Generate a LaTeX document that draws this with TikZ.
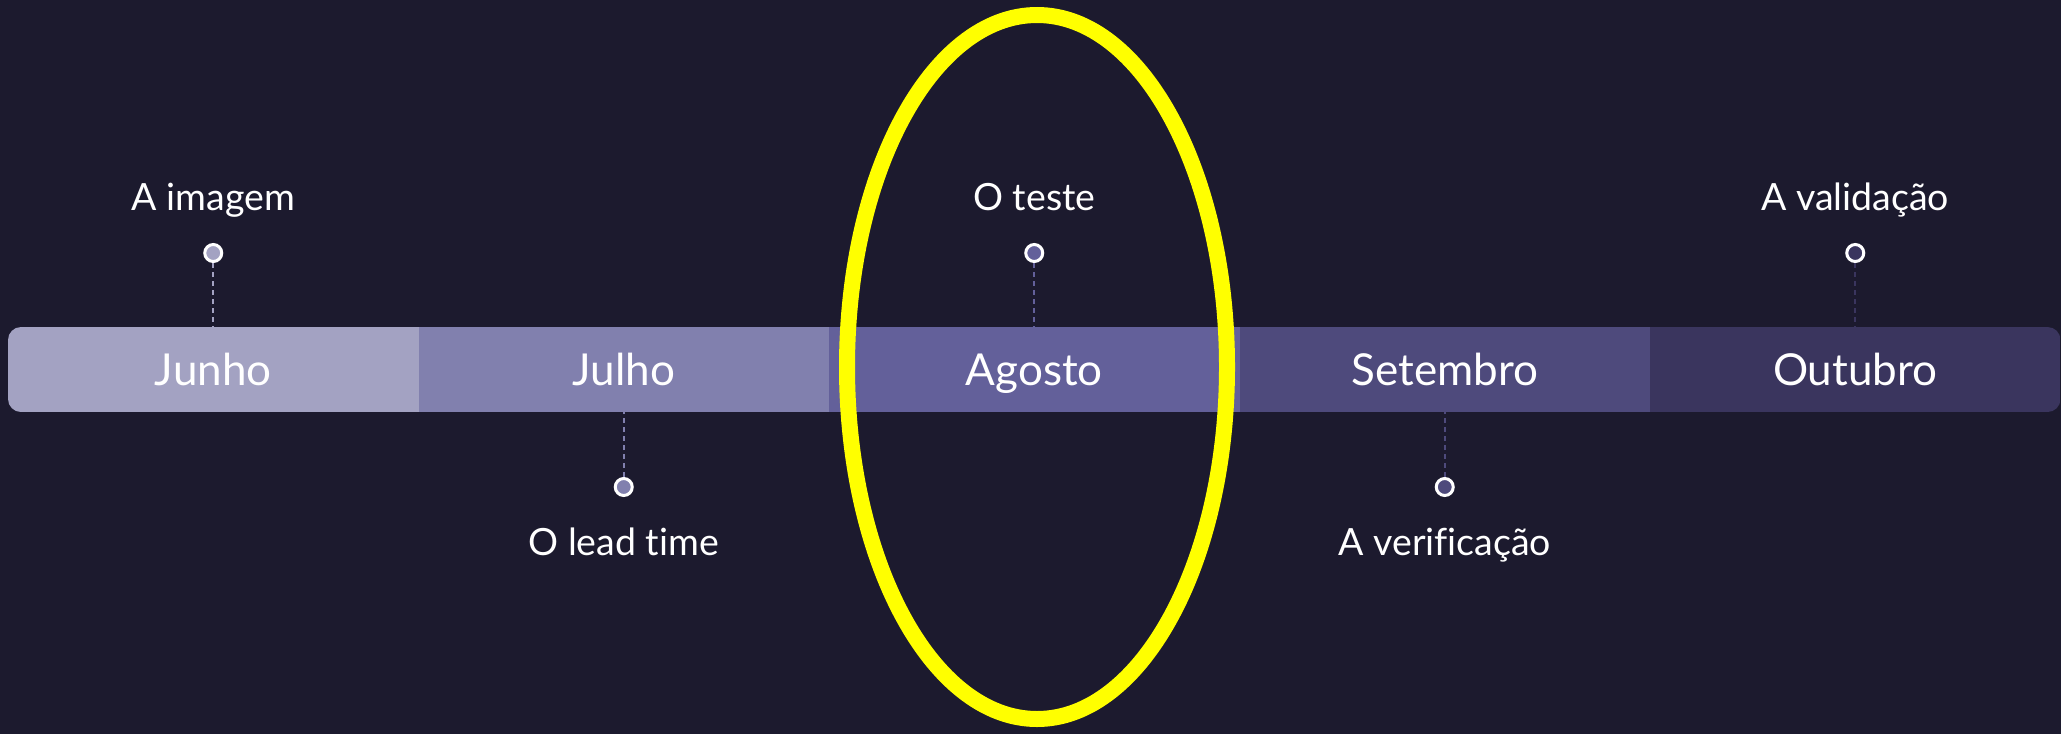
\documentclass[tikz,border=0pt]{standalone}
\usepackage{fontspec}
\setmainfont[Ligatures=NoCommon]{Lato}
\usepackage{tikz}
\usetikzlibrary{positioning,shapes.geometric}
\definecolor{night}{HTML}{1C1A2E}
\definecolor{junho}{HTML}{A3A2C2}
\definecolor{julho}{HTML}{8180AE}
\definecolor{agosto}{HTML}{63609A}
\definecolor{setembro}{HTML}{4E4A7C}
\definecolor{outubro}{HTML}{3A355E}
\definecolor{marker}{HTML}{FFFF00}
\tikzset{
month/.style={rectangle, minimum width=205.25pt, minimum height=42.5pt, inner sep=0pt,
  text=white, text height=15.8pt, text depth=0pt, font=\fontsize{22}{26}\selectfont}, % one block of the bar
milestone/.style={circle, draw=white, line width=1.5pt, minimum size=8.5pt, inner sep=0pt},
caption/.style={text=white, inner sep=0pt, text height=13.5pt, text depth=0pt,
  font=\fontsize{18.75}{22}\selectfont},
leader/.style={line width=1pt, dash pattern=on 2.5pt off 2pt},
}

\begin{document}
\begin{tikzpicture}[x=0.5pt,y=-0.5pt,node distance=205.25pt,on grid]
        \fill[night] (0,0) rectangle (2061,734);
        \useasboundingbox (0,0) rectangle (2061,734);
        % the bar
        \begin{scope}
        \clip[rounded corners=6.5pt] (8,327) rectangle (2060.5,412);
        \node[month, fill=junho] (jun) at (213.25,369.5) {Junho};
        \node[month, fill=julho] (jul) [right=of jun] {Julho};
        \node[month, fill=agosto] (ago) [right=of jul] {Agosto};
        \node[month, fill=setembro] (set) [right=of ago] {Setembro};
        \node[month, fill=outubro] (out) [right=of set] {Outubro};
        \end{scope}
        % milestones
        \node[milestone, fill=junho] (p_jun) [above=58.25pt of jun] {};
        \node[milestone, fill=julho] (p_jul) [below=58.75pt of jul] {};
        \node[milestone, fill=agosto] (p_ago) [above=58.25pt of ago] {};
        \node[milestone, fill=setembro] (p_set) [below=58.75pt of set] {};
        \node[milestone, fill=outubro] (p_out) [above=58.25pt of out] {};
        \node[caption] (t_jun) [above=28.25pt of p_jun] {A imagem};
        \node[caption] (t_jul) [below=27.5pt of p_jul] {O lead time};
        \node[caption] (t_ago) [above=28.25pt of p_ago] {O teste};
        \node[caption] (t_set) [below=27.5pt of p_set] {A verificação};
        \node[caption] (t_out) [above=28.25pt of p_out] {A validação};
        \draw[leader, junho] (p_jun) -- (jun.north);
        \draw[leader, julho] (p_jul) -- (jul.south);
        \draw[leader, agosto] (p_ago) -- (ago.north);
        \draw[leader, setembro] (p_set) -- (set.south);
        \draw[leader, outubro] (p_out) -- (out.north);
        % highlight
        \node[ellipse, draw=marker, line width=8pt, minimum width=190pt, minimum height=352pt,
              inner sep=0pt] (ring) at (1037,367) {};
        \end{tikzpicture}
\end{document}
